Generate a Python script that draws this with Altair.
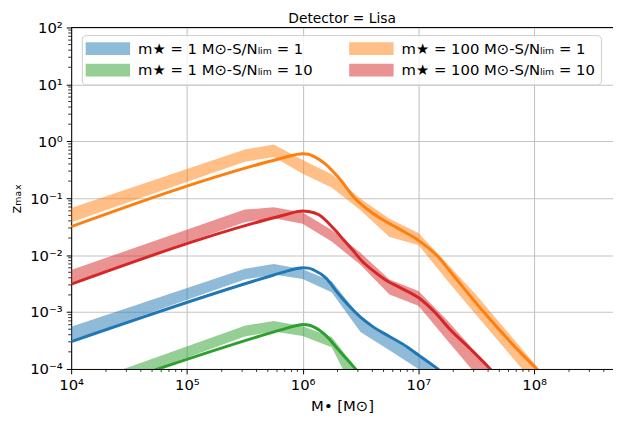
import altair as alt
import pandas as pd

# ---------------- data ----------------
# series labels (legend order: row-major, 2 columns)
lab_b = "m★ = 1 M⊙-S/Nₗᵢₘ = 1"
lab_g = "m★ = 1 M⊙-S/Nₗᵢₘ = 10"
lab_o = "m★ = 100 M⊙-S/Nₗᵢₘ = 1"
lab_r = "m★ = 100 M⊙-S/Nₗᵢₘ = 10"
series = [lab_b, lab_g, lab_o, lab_r]
colors = ["#1f77b4", "#2ca02c", "#ff7f0e", "#d62728"]

# band grid (black-hole mass, M_sun)
band_M = [1e4, 3.16e5, 5.62e5, 1e6, 1.78e6, 3.16e6, 5.62e6, 1e7,
          1.78e7, 3.16e7, 5.62e7, 1e8, 1.78e8]

# bands: log10(z_max) upper / lower edges
blue_hi = [-3.26, -2.24, -2.155, -2.25, -2.46, -3.09, -3.45, -3.755, -4.2]
blue_lo = [-3.50, -2.43, -2.34, -2.42, -2.65, -3.35, -3.67, -4.0, -4.5]
green_hi = [-4.33, -3.24, -3.155, -3.25, -3.44, -4.09]
green_lo = [-4.55, -3.43, -3.34, -3.42, -3.62, -4.6]
red_hi = [-2.26, -1.20, -1.16, -1.25, -1.56, -1.96, -2.43, -2.63, -3.15, -3.72, -4.3]
red_lo = [-2.49, -1.42, -1.35, -1.45, -1.76, -2.17, -2.69, -2.89, -3.50, -4.10, -4.7]
orange_hi = [-1.17, -0.144, -0.058, -0.33, -0.58, -1.01, -1.36, -1.61, -2.15, -2.70, -3.30, -3.90, -4.5]
orange_lo = [-1.42, -0.358, -0.277, -0.57, -0.81, -1.21, -1.68, -1.82, -2.45, -3.05, -3.65, -4.25, -4.85]

# lines: log10(M) and log10(z_max)
blue_lm = [4.0, 5.7, 5.85, 5.95, 6.0, 6.05, 6.1, 6.2, 6.3, 6.4, 6.5, 6.6, 6.75, 6.9, 7.0, 7.1, 7.2, 7.3]
blue_lz = [-3.52, -2.38, -2.29, -2.235, -2.22, -2.228, -2.265, -2.40, -2.657, -2.89, -3.09, -3.247,
           -3.43, -3.61, -3.755, -3.90, -4.05, -4.2]
green_lm = [4.0, 5.7, 5.85, 5.95, 6.0, 6.05, 6.1, 6.2, 6.3, 6.4, 6.5, 6.6]
green_lz = [-4.52, -3.38, -3.29, -3.235, -3.22, -3.228, -3.264, -3.41, -3.64, -3.87, -4.1, -4.35]
red_lm = [4.0, 5.7, 5.85, 5.95, 6.0, 6.05, 6.14, 6.28, 6.355, 6.43, 6.51, 6.6, 6.71, 6.85, 7.0,
          7.14, 7.28, 7.45, 7.62, 7.7]
red_lz = [-2.51, -1.37, -1.29, -1.235, -1.225, -1.232, -1.29, -1.56, -1.733, -1.906, -2.10, -2.26,
          -2.426, -2.58, -2.745, -3.0, -3.32, -3.65, -4.0, -4.18]
orange_lm = [4.0, 5.7, 5.85, 5.95, 6.0, 6.05, 6.1, 6.2, 6.31, 6.455, 6.55, 6.654, 6.824, 7.0,
             7.166, 7.28, 7.564, 7.848, 8.03, 8.1]
orange_lz = [-1.50, -0.36, -0.28, -0.23, -0.22, -0.228, -0.27, -0.405, -0.636, -1.01, -1.18, -1.33,
             -1.53, -1.74, -2.02, -2.3, -3.0, -3.64, -4.02, -4.18]

# axis ticks
x_major = [1e4, 1e5, 1e6, 1e7, 1e8]
x_minor = [m * 10 ** d for d in range(4, 9) for m in range(2, 10) if m * 10 ** d < 4.8e8]
y_major = [1e-4, 1e-3, 1e-2, 1e-1, 1e0, 1e1, 1e2]
y_minor = [m * 10.0 ** d for d in range(-4, 2) for m in range(2, 10)]

# ---------------- tables ----------------
band_rows = []
for lab, hi, lo in [(lab_b, blue_hi, blue_lo), (lab_g, green_hi, green_lo),
                    (lab_o, orange_hi, orange_lo), (lab_r, red_hi, red_lo)]:
    for M, h, l in zip(band_M, hi, lo):
        band_rows.append({"series": lab, "M": M, "lo": 10 ** l, "hi": 10 ** h})
bands = pd.DataFrame(band_rows)

line_rows = []
for lab, lm, lz in [(lab_b, blue_lm, blue_lz), (lab_g, green_lm, green_lz),
                    (lab_o, orange_lm, orange_lz), (lab_r, red_lm, red_lz)]:
    for a, b in zip(lm, lz):
        line_rows.append({"series": lab, "M": 10 ** a, "lo": 10 ** b})
lines = pd.DataFrame(line_rows)

xminor_df = pd.DataFrame({"M": x_minor})
yminor_df = pd.DataFrame({"lo": y_minor})

W, H = 549, 346
FONT = "DejaVu Sans"
sup_expr = ("'10' + (datum.value < 1 ? '⁻' : '') + substring('⁰¹²³⁴⁵⁶⁷⁸⁹', "
            "abs(round(log(datum.value)/LN10)), abs(round(log(datum.value)/LN10)) + 1)")

xscale = alt.Scale(type="log", domain=[1e4, 4.8e8], nice=False)
yscale = alt.Scale(type="log", domain=[1e-4, 1e2], nice=False)

common_axis = dict(grid=True, gridColor="#c4c4c4", gridWidth=1.1, domainColor="black",
                   domainWidth=1, tickColor="black", tickSize=5, labelFontSize=15,
                   labelFont=FONT, labelColor="black", labelFlush=False, labelOverlap=False,
                   titleFont=FONT, titleFontSize=15, titleFontWeight="normal",
                   titleColor="black", labelExpr=sup_expr)

x_axis = alt.Axis(values=x_major, title="M• [M⊙]", labelPadding=4, titlePadding=6, **common_axis)
y_axis = alt.Axis(values=y_major, title="zₘₐₓ", labelPadding=4, titlePadding=6, **common_axis)

X = alt.X("M:Q", scale=xscale, axis=x_axis)
Y = alt.Y("lo:Q", scale=yscale, axis=y_axis)

color_scale = alt.Scale(domain=series, range=colors)

band_layer = alt.Chart(bands).mark_area(opacity=0.5, clip=True).encode(
    x=X, y=Y, y2="hi:Q",
    color=alt.Color("series:N", scale=color_scale, sort=series,
                    legend=alt.Legend(
                        orient="none", legendX=10.8, legendY=7.7, columns=2,
                        columnPadding=36, rowPadding=6, title=None,
                        symbolType="M-1.6,-1.08L5.9,-1.08L5.9,1.08L-1.6,1.08Z",
                        symbolSize=144, symbolStrokeWidth=0, labelOffset=36,
                        labelFontSize=15, labelFont=FONT, labelColor="black",
                        labelLimit=500, fillColor="rgba(255,255,255,0.8)",
                        strokeColor="#cccccc", cornerRadius=4, padding=6)),
)

line_layer = alt.Chart(lines).mark_line(strokeWidth=3, interpolate="monotone", clip=True).encode(
    x=X, y=Y,
    color=alt.Color("series:N", scale=color_scale, sort=series, legend=None),
)

xminor_layer = alt.Chart(xminor_df).mark_rule(color="black", strokeWidth=0.8, clip=False).encode(
    x=X, y=alt.value(H), y2=alt.value(H + 3),
)
yminor_layer = alt.Chart(yminor_df).mark_rule(color="black", strokeWidth=0.8, clip=False).encode(
    y=Y, x=alt.value(-3), x2=alt.value(0),
)
top_spine = alt.Chart(pd.DataFrame({"k": [0]})).mark_rule(color="black", strokeWidth=1).encode(
    x=alt.value(0), x2=alt.value(W), y=alt.value(0),
)

chart = alt.layer(band_layer, line_layer, xminor_layer, yminor_layer, top_spine).properties(
    width=W, height=H,
    autosize=alt.AutoSizeParams(type="none"),
    padding={"left": 64, "top": 17, "right": 0, "bottom": 52},
    title=alt.TitleParams("Detector = Lisa", font=FONT, fontSize=14, fontWeight="normal",
                          color="black", anchor="middle", offset=4, dy=9),
).configure_view(stroke=None).configure(background="white")

chart.save("out.html", embed_options={"renderer": "svg", "actions": False})
